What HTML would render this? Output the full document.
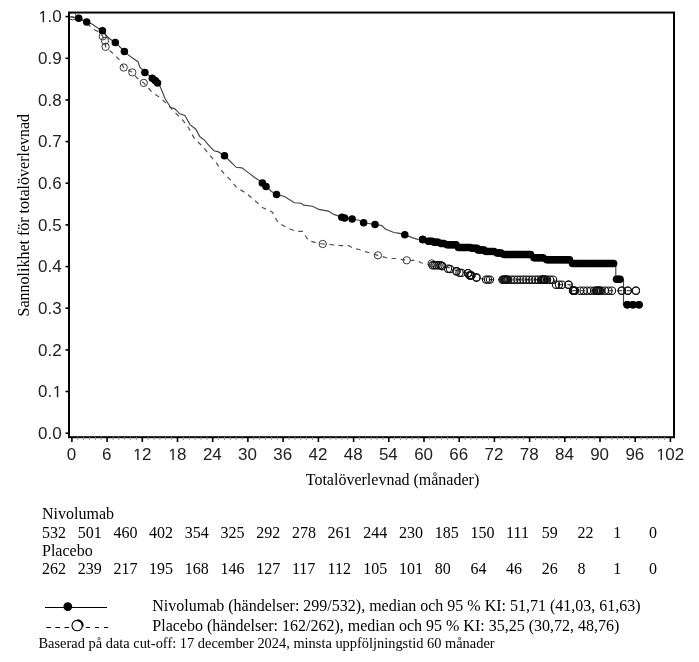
<!DOCTYPE html><html><head><meta charset="utf-8"><style>html,body{margin:0;padding:0;background:#fff;width:699px;height:662px;overflow:hidden}svg{display:block;will-change:transform}</style></head><body>
<svg width="699" height="662" viewBox="0 0 699 662">
<rect width="699" height="662" fill="#fff"/>
<rect x="69" y="12.55" width="605" height="424.65" fill="none" stroke="#000" stroke-width="2"/>
<line x1="65.5" y1="433.2" x2="69" y2="433.2" stroke="#000" stroke-width="1.6"/>
<g transform="translate(61.60,438.90) scale(1.03,1)" fill="#222"><text text-anchor="end" font-family='"Liberation Sans", sans-serif' font-size="16.5">0.0</text></g>
<line x1="65.5" y1="391.5" x2="69" y2="391.5" stroke="#000" stroke-width="1.6"/>
<g transform="translate(61.60,397.24) scale(1.03,1)" fill="#222"><text text-anchor="end" font-family='"Liberation Sans", sans-serif' font-size="16.5">0. </text><path transform="translate(-9.177,0) scale(0.008057,-0.008057)" d="M565,0 L735,0 L735,1409 L590,1409 L280,1180 L280,1000 L565,1200 Z"/></g>
<line x1="65.5" y1="349.9" x2="69" y2="349.9" stroke="#000" stroke-width="1.6"/>
<g transform="translate(61.60,355.58) scale(1.03,1)" fill="#222"><text text-anchor="end" font-family='"Liberation Sans", sans-serif' font-size="16.5">0.2</text></g>
<line x1="65.5" y1="308.2" x2="69" y2="308.2" stroke="#000" stroke-width="1.6"/>
<g transform="translate(61.60,313.92) scale(1.03,1)" fill="#222"><text text-anchor="end" font-family='"Liberation Sans", sans-serif' font-size="16.5">0.3</text></g>
<line x1="65.5" y1="266.6" x2="69" y2="266.6" stroke="#000" stroke-width="1.6"/>
<g transform="translate(61.60,272.26) scale(1.03,1)" fill="#222"><text text-anchor="end" font-family='"Liberation Sans", sans-serif' font-size="16.5">0.4</text></g>
<line x1="65.5" y1="224.9" x2="69" y2="224.9" stroke="#000" stroke-width="1.6"/>
<g transform="translate(61.60,230.60) scale(1.03,1)" fill="#222"><text text-anchor="end" font-family='"Liberation Sans", sans-serif' font-size="16.5">0.5</text></g>
<line x1="65.5" y1="183.2" x2="69" y2="183.2" stroke="#000" stroke-width="1.6"/>
<g transform="translate(61.60,188.94) scale(1.03,1)" fill="#222"><text text-anchor="end" font-family='"Liberation Sans", sans-serif' font-size="16.5">0.6</text></g>
<line x1="65.5" y1="141.6" x2="69" y2="141.6" stroke="#000" stroke-width="1.6"/>
<g transform="translate(61.60,147.28) scale(1.03,1)" fill="#222"><text text-anchor="end" font-family='"Liberation Sans", sans-serif' font-size="16.5">0.7</text></g>
<line x1="65.5" y1="99.9" x2="69" y2="99.9" stroke="#000" stroke-width="1.6"/>
<g transform="translate(61.60,105.62) scale(1.03,1)" fill="#222"><text text-anchor="end" font-family='"Liberation Sans", sans-serif' font-size="16.5">0.8</text></g>
<line x1="65.5" y1="58.3" x2="69" y2="58.3" stroke="#000" stroke-width="1.6"/>
<g transform="translate(61.60,63.96) scale(1.03,1)" fill="#222"><text text-anchor="end" font-family='"Liberation Sans", sans-serif' font-size="16.5">0.9</text></g>
<line x1="65.5" y1="16.6" x2="69" y2="16.6" stroke="#000" stroke-width="1.6"/>
<g transform="translate(61.60,22.30) scale(1.03,1)" fill="#222"><text text-anchor="end" font-family='"Liberation Sans", sans-serif' font-size="16.5"> .0</text><path transform="translate(-22.937,0) scale(0.008057,-0.008057)" d="M565,0 L735,0 L735,1409 L590,1409 L280,1180 L280,1000 L565,1200 Z"/></g>
<line x1="71.9" y1="437" x2="71.9" y2="442" stroke="#000" stroke-width="1.6"/>
<g transform="translate(71.50,460.00) scale(1.03,1)" fill="#222"><text text-anchor="middle" font-family='"Liberation Sans", sans-serif' font-size="16.5">0</text></g>
<line x1="77.8" y1="437" x2="77.8" y2="439.8" stroke="#888" stroke-width="1"/>
<line x1="83.6" y1="437" x2="83.6" y2="439.8" stroke="#888" stroke-width="1"/>
<line x1="89.5" y1="437" x2="89.5" y2="439.8" stroke="#888" stroke-width="1"/>
<line x1="95.4" y1="437" x2="95.4" y2="439.8" stroke="#888" stroke-width="1"/>
<line x1="101.2" y1="437" x2="101.2" y2="439.8" stroke="#888" stroke-width="1"/>
<line x1="107.1" y1="437" x2="107.1" y2="442" stroke="#000" stroke-width="1.6"/>
<g transform="translate(106.71,460.00) scale(1.03,1)" fill="#222"><text text-anchor="middle" font-family='"Liberation Sans", sans-serif' font-size="16.5">6</text></g>
<line x1="113.0" y1="437" x2="113.0" y2="439.8" stroke="#888" stroke-width="1"/>
<line x1="118.8" y1="437" x2="118.8" y2="439.8" stroke="#888" stroke-width="1"/>
<line x1="124.7" y1="437" x2="124.7" y2="439.8" stroke="#888" stroke-width="1"/>
<line x1="130.6" y1="437" x2="130.6" y2="439.8" stroke="#888" stroke-width="1"/>
<line x1="136.4" y1="437" x2="136.4" y2="439.8" stroke="#888" stroke-width="1"/>
<line x1="142.3" y1="437" x2="142.3" y2="442" stroke="#000" stroke-width="1.6"/>
<g transform="translate(141.92,460.00) scale(1.03,1)" fill="#222"><text text-anchor="middle" font-family='"Liberation Sans", sans-serif' font-size="16.5"> 2</text><path transform="translate(-9.177,0) scale(0.008057,-0.008057)" d="M565,0 L735,0 L735,1409 L590,1409 L280,1180 L280,1000 L565,1200 Z"/></g>
<line x1="148.2" y1="437" x2="148.2" y2="439.8" stroke="#888" stroke-width="1"/>
<line x1="154.1" y1="437" x2="154.1" y2="439.8" stroke="#888" stroke-width="1"/>
<line x1="159.9" y1="437" x2="159.9" y2="439.8" stroke="#888" stroke-width="1"/>
<line x1="165.8" y1="437" x2="165.8" y2="439.8" stroke="#888" stroke-width="1"/>
<line x1="171.7" y1="437" x2="171.7" y2="439.8" stroke="#888" stroke-width="1"/>
<line x1="177.5" y1="437" x2="177.5" y2="442" stroke="#000" stroke-width="1.6"/>
<g transform="translate(177.12,460.00) scale(1.03,1)" fill="#222"><text text-anchor="middle" font-family='"Liberation Sans", sans-serif' font-size="16.5"> 8</text><path transform="translate(-9.177,0) scale(0.008057,-0.008057)" d="M565,0 L735,0 L735,1409 L590,1409 L280,1180 L280,1000 L565,1200 Z"/></g>
<line x1="183.4" y1="437" x2="183.4" y2="439.8" stroke="#888" stroke-width="1"/>
<line x1="189.3" y1="437" x2="189.3" y2="439.8" stroke="#888" stroke-width="1"/>
<line x1="195.1" y1="437" x2="195.1" y2="439.8" stroke="#888" stroke-width="1"/>
<line x1="201.0" y1="437" x2="201.0" y2="439.8" stroke="#888" stroke-width="1"/>
<line x1="206.9" y1="437" x2="206.9" y2="439.8" stroke="#888" stroke-width="1"/>
<line x1="212.7" y1="437" x2="212.7" y2="442" stroke="#000" stroke-width="1.6"/>
<g transform="translate(212.33,460.00) scale(1.03,1)" fill="#222"><text text-anchor="middle" font-family='"Liberation Sans", sans-serif' font-size="16.5">24</text></g>
<line x1="218.6" y1="437" x2="218.6" y2="439.8" stroke="#888" stroke-width="1"/>
<line x1="224.5" y1="437" x2="224.5" y2="439.8" stroke="#888" stroke-width="1"/>
<line x1="230.3" y1="437" x2="230.3" y2="439.8" stroke="#888" stroke-width="1"/>
<line x1="236.2" y1="437" x2="236.2" y2="439.8" stroke="#888" stroke-width="1"/>
<line x1="242.1" y1="437" x2="242.1" y2="439.8" stroke="#888" stroke-width="1"/>
<line x1="247.9" y1="437" x2="247.9" y2="442" stroke="#000" stroke-width="1.6"/>
<g transform="translate(247.54,460.00) scale(1.03,1)" fill="#222"><text text-anchor="middle" font-family='"Liberation Sans", sans-serif' font-size="16.5">30</text></g>
<line x1="253.8" y1="437" x2="253.8" y2="439.8" stroke="#888" stroke-width="1"/>
<line x1="259.7" y1="437" x2="259.7" y2="439.8" stroke="#888" stroke-width="1"/>
<line x1="265.5" y1="437" x2="265.5" y2="439.8" stroke="#888" stroke-width="1"/>
<line x1="271.4" y1="437" x2="271.4" y2="439.8" stroke="#888" stroke-width="1"/>
<line x1="277.3" y1="437" x2="277.3" y2="439.8" stroke="#888" stroke-width="1"/>
<line x1="283.1" y1="437" x2="283.1" y2="442" stroke="#000" stroke-width="1.6"/>
<g transform="translate(282.75,460.00) scale(1.03,1)" fill="#222"><text text-anchor="middle" font-family='"Liberation Sans", sans-serif' font-size="16.5">36</text></g>
<line x1="289.0" y1="437" x2="289.0" y2="439.8" stroke="#888" stroke-width="1"/>
<line x1="294.9" y1="437" x2="294.9" y2="439.8" stroke="#888" stroke-width="1"/>
<line x1="300.8" y1="437" x2="300.8" y2="439.8" stroke="#888" stroke-width="1"/>
<line x1="306.6" y1="437" x2="306.6" y2="439.8" stroke="#888" stroke-width="1"/>
<line x1="312.5" y1="437" x2="312.5" y2="439.8" stroke="#888" stroke-width="1"/>
<line x1="318.4" y1="437" x2="318.4" y2="442" stroke="#000" stroke-width="1.6"/>
<g transform="translate(317.96,460.00) scale(1.03,1)" fill="#222"><text text-anchor="middle" font-family='"Liberation Sans", sans-serif' font-size="16.5">42</text></g>
<line x1="324.2" y1="437" x2="324.2" y2="439.8" stroke="#888" stroke-width="1"/>
<line x1="330.1" y1="437" x2="330.1" y2="439.8" stroke="#888" stroke-width="1"/>
<line x1="336.0" y1="437" x2="336.0" y2="439.8" stroke="#888" stroke-width="1"/>
<line x1="341.8" y1="437" x2="341.8" y2="439.8" stroke="#888" stroke-width="1"/>
<line x1="347.7" y1="437" x2="347.7" y2="439.8" stroke="#888" stroke-width="1"/>
<line x1="353.6" y1="437" x2="353.6" y2="442" stroke="#000" stroke-width="1.6"/>
<g transform="translate(353.16,460.00) scale(1.03,1)" fill="#222"><text text-anchor="middle" font-family='"Liberation Sans", sans-serif' font-size="16.5">48</text></g>
<line x1="359.4" y1="437" x2="359.4" y2="439.8" stroke="#888" stroke-width="1"/>
<line x1="365.3" y1="437" x2="365.3" y2="439.8" stroke="#888" stroke-width="1"/>
<line x1="371.2" y1="437" x2="371.2" y2="439.8" stroke="#888" stroke-width="1"/>
<line x1="377.0" y1="437" x2="377.0" y2="439.8" stroke="#888" stroke-width="1"/>
<line x1="382.9" y1="437" x2="382.9" y2="439.8" stroke="#888" stroke-width="1"/>
<line x1="388.8" y1="437" x2="388.8" y2="442" stroke="#000" stroke-width="1.6"/>
<g transform="translate(388.37,460.00) scale(1.03,1)" fill="#222"><text text-anchor="middle" font-family='"Liberation Sans", sans-serif' font-size="16.5">54</text></g>
<line x1="394.6" y1="437" x2="394.6" y2="439.8" stroke="#888" stroke-width="1"/>
<line x1="400.5" y1="437" x2="400.5" y2="439.8" stroke="#888" stroke-width="1"/>
<line x1="406.4" y1="437" x2="406.4" y2="439.8" stroke="#888" stroke-width="1"/>
<line x1="412.2" y1="437" x2="412.2" y2="439.8" stroke="#888" stroke-width="1"/>
<line x1="418.1" y1="437" x2="418.1" y2="439.8" stroke="#888" stroke-width="1"/>
<line x1="424.0" y1="437" x2="424.0" y2="442" stroke="#000" stroke-width="1.6"/>
<g transform="translate(423.58,460.00) scale(1.03,1)" fill="#222"><text text-anchor="middle" font-family='"Liberation Sans", sans-serif' font-size="16.5">60</text></g>
<line x1="429.8" y1="437" x2="429.8" y2="439.8" stroke="#888" stroke-width="1"/>
<line x1="435.7" y1="437" x2="435.7" y2="439.8" stroke="#888" stroke-width="1"/>
<line x1="441.6" y1="437" x2="441.6" y2="439.8" stroke="#888" stroke-width="1"/>
<line x1="447.5" y1="437" x2="447.5" y2="439.8" stroke="#888" stroke-width="1"/>
<line x1="453.3" y1="437" x2="453.3" y2="439.8" stroke="#888" stroke-width="1"/>
<line x1="459.2" y1="437" x2="459.2" y2="442" stroke="#000" stroke-width="1.6"/>
<g transform="translate(458.79,460.00) scale(1.03,1)" fill="#222"><text text-anchor="middle" font-family='"Liberation Sans", sans-serif' font-size="16.5">66</text></g>
<line x1="465.1" y1="437" x2="465.1" y2="439.8" stroke="#888" stroke-width="1"/>
<line x1="470.9" y1="437" x2="470.9" y2="439.8" stroke="#888" stroke-width="1"/>
<line x1="476.8" y1="437" x2="476.8" y2="439.8" stroke="#888" stroke-width="1"/>
<line x1="482.7" y1="437" x2="482.7" y2="439.8" stroke="#888" stroke-width="1"/>
<line x1="488.5" y1="437" x2="488.5" y2="439.8" stroke="#888" stroke-width="1"/>
<line x1="494.4" y1="437" x2="494.4" y2="442" stroke="#000" stroke-width="1.6"/>
<g transform="translate(494.00,460.00) scale(1.03,1)" fill="#222"><text text-anchor="middle" font-family='"Liberation Sans", sans-serif' font-size="16.5">72</text></g>
<line x1="500.3" y1="437" x2="500.3" y2="439.8" stroke="#888" stroke-width="1"/>
<line x1="506.1" y1="437" x2="506.1" y2="439.8" stroke="#888" stroke-width="1"/>
<line x1="512.0" y1="437" x2="512.0" y2="439.8" stroke="#888" stroke-width="1"/>
<line x1="517.9" y1="437" x2="517.9" y2="439.8" stroke="#888" stroke-width="1"/>
<line x1="523.7" y1="437" x2="523.7" y2="439.8" stroke="#888" stroke-width="1"/>
<line x1="529.6" y1="437" x2="529.6" y2="442" stroke="#000" stroke-width="1.6"/>
<g transform="translate(529.20,460.00) scale(1.03,1)" fill="#222"><text text-anchor="middle" font-family='"Liberation Sans", sans-serif' font-size="16.5">78</text></g>
<line x1="535.5" y1="437" x2="535.5" y2="439.8" stroke="#888" stroke-width="1"/>
<line x1="541.3" y1="437" x2="541.3" y2="439.8" stroke="#888" stroke-width="1"/>
<line x1="547.2" y1="437" x2="547.2" y2="439.8" stroke="#888" stroke-width="1"/>
<line x1="553.1" y1="437" x2="553.1" y2="439.8" stroke="#888" stroke-width="1"/>
<line x1="558.9" y1="437" x2="558.9" y2="439.8" stroke="#888" stroke-width="1"/>
<line x1="564.8" y1="437" x2="564.8" y2="442" stroke="#000" stroke-width="1.6"/>
<g transform="translate(564.41,460.00) scale(1.03,1)" fill="#222"><text text-anchor="middle" font-family='"Liberation Sans", sans-serif' font-size="16.5">84</text></g>
<line x1="570.7" y1="437" x2="570.7" y2="439.8" stroke="#888" stroke-width="1"/>
<line x1="576.5" y1="437" x2="576.5" y2="439.8" stroke="#888" stroke-width="1"/>
<line x1="582.4" y1="437" x2="582.4" y2="439.8" stroke="#888" stroke-width="1"/>
<line x1="588.3" y1="437" x2="588.3" y2="439.8" stroke="#888" stroke-width="1"/>
<line x1="594.2" y1="437" x2="594.2" y2="439.8" stroke="#888" stroke-width="1"/>
<line x1="600.0" y1="437" x2="600.0" y2="442" stroke="#000" stroke-width="1.6"/>
<g transform="translate(599.62,460.00) scale(1.03,1)" fill="#222"><text text-anchor="middle" font-family='"Liberation Sans", sans-serif' font-size="16.5">90</text></g>
<line x1="605.9" y1="437" x2="605.9" y2="439.8" stroke="#888" stroke-width="1"/>
<line x1="611.8" y1="437" x2="611.8" y2="439.8" stroke="#888" stroke-width="1"/>
<line x1="617.6" y1="437" x2="617.6" y2="439.8" stroke="#888" stroke-width="1"/>
<line x1="623.5" y1="437" x2="623.5" y2="439.8" stroke="#888" stroke-width="1"/>
<line x1="629.4" y1="437" x2="629.4" y2="439.8" stroke="#888" stroke-width="1"/>
<line x1="635.2" y1="437" x2="635.2" y2="442" stroke="#000" stroke-width="1.6"/>
<g transform="translate(634.83,460.00) scale(1.03,1)" fill="#222"><text text-anchor="middle" font-family='"Liberation Sans", sans-serif' font-size="16.5">96</text></g>
<line x1="641.1" y1="437" x2="641.1" y2="439.8" stroke="#888" stroke-width="1"/>
<line x1="647.0" y1="437" x2="647.0" y2="439.8" stroke="#888" stroke-width="1"/>
<line x1="652.8" y1="437" x2="652.8" y2="439.8" stroke="#888" stroke-width="1"/>
<line x1="658.7" y1="437" x2="658.7" y2="439.8" stroke="#888" stroke-width="1"/>
<line x1="664.6" y1="437" x2="664.6" y2="439.8" stroke="#888" stroke-width="1"/>
<line x1="670.4" y1="437" x2="670.4" y2="442" stroke="#000" stroke-width="1.6"/>
<g transform="translate(670.04,460.00) scale(1.03,1)" fill="#222"><text text-anchor="middle" font-family='"Liberation Sans", sans-serif' font-size="16.5"> 02</text><path transform="translate(-13.765,0) scale(0.008057,-0.008057)" d="M565,0 L735,0 L735,1409 L590,1409 L280,1180 L280,1000 L565,1200 Z"/></g>
<text x="392.5" y="485" text-anchor="middle" font-family='"Liberation Serif", serif' font-size="16" fill="#000">Totalöverlevnad (månader)</text>
<text transform="translate(28.6,215.2) rotate(-90)" text-anchor="middle" font-family='"Liberation Serif", serif' font-size="16" fill="#000">Sannolikhet för totalöverlevnad</text>
<g clip-path="url(#clip)">
<defs><clipPath id="clip"><rect x="70" y="13.3" width="603" height="422.7"/></clipPath></defs>
<polyline points="70.5,16.6 79.0,18.5 86.0,22.0 92.5,28.9 97.0,31.0 102.8,36.3 105.0,40.7 105.6,46.8 113.6,54.0 119.5,60.0 123.7,67.5 132.3,72.4 137.0,78.0 143.8,82.9 151.8,92.0 160.3,97.8 168.3,105.2 175.7,113.2 183.2,120.6 189.5,129.2 194.0,137.8 196.1,140.4 203.0,146.7 209.3,154.7 216.7,163.3 222.6,172.0 230.3,179.9 237.2,188.0 246.2,193.2 254.8,200.5 262.9,207.8 272.4,212.1 278.0,222.6 287.2,227.8 296.0,231.4 302.9,231.4 305.7,236.2 308.6,240.8 314.9,242.3 322.7,244.0 333.8,244.8 341.2,245.6 348.6,245.6 353.2,248.2 359.0,249.5 366.4,251.9 377.9,255.3 388.8,258.5 395.6,258.5 406.7,260.3 417.4,260.5 420.8,262.8 431.0,265.0 442.0,265.0 446.0,266.5 449.3,267.9 453.0,269.5 457.3,270.8 460.8,271.9 467.6,272.5 471.0,275.3 476.8,277.1 480.0,278.5 488.2,279.6 554.0,279.6 555.0,284.7 570.0,284.7 571.0,290.7 635.9,290.7" fill="none" stroke="#505050" stroke-width="1.2" stroke-dasharray="4.6 4.6"/>
<polyline points="70.5,16.6 79.0,18.2 87.0,22.0 92.0,24.0 97.0,27.5 102.4,30.8 106.0,35.5 110.0,39.0 115.2,42.4 120.0,47.0 124.4,51.4 128.3,54.9 132.9,58.3 138.0,61.7 139.7,66.9 144.9,72.4 152.3,78.3 155.2,80.6 157.5,82.9 160.3,86.9 164.9,98.3 170.6,107.5 174.6,108.6 179.7,113.8 184.9,115.5 190.0,124.6 195.8,129.2 200.1,137.0 204.2,139.9 209.9,146.7 213.9,150.7 218.5,151.9 224.5,155.7 229.3,160.5 236.2,167.3 241.9,167.9 248.3,172.6 254.3,177.3 258.6,179.9 262.3,183.0 266.0,186.5 271.5,191.5 276.5,194.4 284.5,196.5 294.4,202.8 301.3,203.2 303.6,205.1 312.5,206.2 318.8,209.4 328.5,211.1 333.8,214.4 341.8,217.3 344.6,217.9 352.1,219.0 359.0,220.2 363.6,222.7 375.0,224.5 381.9,225.6 385.3,229.0 393.9,232.5 399.6,233.4 404.8,234.7 412.2,237.6 416.8,239.1 422.7,239.4" fill="none" stroke="#444" stroke-width="1.15"/>
<path d="M422.7,239.4 L425.5,239.4 L425.5,241.3 L432.0,241.3 L433.0,241.3 L433.0,242.2 L438.0,242.2 L439.5,242.2 L439.5,243.5 L444.0,243.5 L445.5,243.5 L445.5,244.8 L456.0,244.8 L457.2,244.8 L457.2,247.5 L470.0,247.5 L471.0,247.5 L471.0,248.3 L477.0,248.3 L477.5,248.3 L477.5,250.0 L484.0,250.0 L485.0,250.0 L485.0,251.4 L494.0,251.4 L495.5,251.4 L495.5,252.9 L501.0,252.9 L502.5,252.9 L502.5,254.6 L530.5,254.6 L532.2,254.6 L532.2,257.8 L543.0,257.8 L544.9,257.8 L544.9,259.8 L569.5,259.8 L571.0,259.8 L571.0,263.5 L613.6,263.5 L615.8,263.5 L615.8,279.2 L620.0,279.2 L623.5,279.2 L623.5,304.8 L627.2,304.8 L630.0,304.8 L630.0,304.8 L632.9,304.8 L636.0,304.8 L636.0,304.8 L639.0,304.8" fill="none" stroke="#444" stroke-width="1.15"/>
<circle cx="72.6" cy="16.3" r="3.65" fill="none" stroke="#3a3a3a" stroke-width="1"/>
<circle cx="102.8" cy="36.3" r="3.65" fill="none" stroke="#3a3a3a" stroke-width="1"/>
<circle cx="105.0" cy="40.7" r="3.65" fill="none" stroke="#3a3a3a" stroke-width="1"/>
<circle cx="105.6" cy="46.8" r="3.65" fill="none" stroke="#3a3a3a" stroke-width="1"/>
<circle cx="123.7" cy="67.5" r="3.65" fill="none" stroke="#3a3a3a" stroke-width="1"/>
<circle cx="132.3" cy="72.4" r="3.65" fill="none" stroke="#3a3a3a" stroke-width="1"/>
<circle cx="143.8" cy="82.9" r="3.65" fill="none" stroke="#3a3a3a" stroke-width="1"/>
<circle cx="322.7" cy="244.0" r="3.65" fill="none" stroke="#3a3a3a" stroke-width="1"/>
<circle cx="377.9" cy="255.3" r="3.65" fill="none" stroke="#3a3a3a" stroke-width="1"/>
<circle cx="406.7" cy="260.3" r="3.65" fill="none" stroke="#3a3a3a" stroke-width="1"/>
<circle cx="431.7" cy="263.4" r="3.65" fill="none" stroke="#3a3a3a" stroke-width="1"/>
<circle cx="432.5" cy="265.3" r="3.65" fill="none" stroke="#111" stroke-width="1.1"/>
<circle cx="434.5" cy="265.3" r="3.65" fill="none" stroke="#111" stroke-width="1.1"/>
<circle cx="436.5" cy="265.3" r="3.65" fill="none" stroke="#111" stroke-width="1.1"/>
<circle cx="438.5" cy="265.3" r="3.65" fill="none" stroke="#111" stroke-width="1.1"/>
<circle cx="440.5" cy="265.3" r="3.65" fill="none" stroke="#111" stroke-width="1.1"/>
<circle cx="442.0" cy="266.0" r="3.65" fill="none" stroke="#111" stroke-width="1.1"/>
<circle cx="442.0" cy="266.0" r="3.65" fill="none" stroke="#111" stroke-width="1.1"/>
<circle cx="448.0" cy="268.7" r="3.65" fill="none" stroke="#111" stroke-width="1.1"/>
<circle cx="450.0" cy="269.0" r="3.65" fill="none" stroke="#111" stroke-width="1.1"/>
<circle cx="456.5" cy="271.3" r="3.65" fill="none" stroke="#111" stroke-width="1.1"/>
<circle cx="456.5" cy="271.3" r="3.65" fill="none" stroke="#111" stroke-width="1.1"/>
<circle cx="459.5" cy="272.7" r="3.65" fill="none" stroke="#111" stroke-width="1.1"/>
<circle cx="461.5" cy="272.9" r="3.65" fill="none" stroke="#111" stroke-width="1.1"/>
<circle cx="468.0" cy="273.2" r="3.65" fill="none" stroke="#111" stroke-width="1.1"/>
<circle cx="468.0" cy="273.2" r="3.65" fill="none" stroke="#111" stroke-width="1.1"/>
<circle cx="470.5" cy="275.5" r="3.65" fill="none" stroke="#111" stroke-width="1.1"/>
<circle cx="470.5" cy="275.5" r="3.65" fill="none" stroke="#111" stroke-width="1.1"/>
<circle cx="476.5" cy="277.5" r="3.65" fill="none" stroke="#111" stroke-width="1.1"/>
<circle cx="476.5" cy="277.5" r="3.65" fill="none" stroke="#111" stroke-width="1.1"/>
<circle cx="486.0" cy="279.6" r="3.65" fill="none" stroke="#111" stroke-width="1.1"/>
<circle cx="488.0" cy="279.6" r="3.65" fill="none" stroke="#111" stroke-width="1.1"/>
<circle cx="490.0" cy="279.6" r="3.65" fill="none" stroke="#111" stroke-width="1.1"/>
<circle cx="502.5" cy="279.7" r="3.65" fill="none" stroke="#111" stroke-width="1.1"/>
<circle cx="505.5" cy="279.7" r="3.65" fill="none" stroke="#111" stroke-width="1.1"/>
<circle cx="508.4" cy="279.7" r="3.65" fill="none" stroke="#111" stroke-width="1.1"/>
<circle cx="511.4" cy="279.7" r="3.65" fill="none" stroke="#111" stroke-width="1.1"/>
<circle cx="514.4" cy="279.7" r="3.65" fill="none" stroke="#111" stroke-width="1.1"/>
<circle cx="517.4" cy="279.7" r="3.65" fill="none" stroke="#111" stroke-width="1.1"/>
<circle cx="520.3" cy="279.7" r="3.65" fill="none" stroke="#111" stroke-width="1.1"/>
<circle cx="523.3" cy="279.7" r="3.65" fill="none" stroke="#111" stroke-width="1.1"/>
<circle cx="526.3" cy="279.7" r="3.65" fill="none" stroke="#111" stroke-width="1.1"/>
<circle cx="529.2" cy="279.7" r="3.65" fill="none" stroke="#111" stroke-width="1.1"/>
<circle cx="532.2" cy="279.7" r="3.65" fill="none" stroke="#111" stroke-width="1.1"/>
<circle cx="535.2" cy="279.7" r="3.65" fill="none" stroke="#111" stroke-width="1.1"/>
<circle cx="538.1" cy="279.7" r="3.65" fill="none" stroke="#111" stroke-width="1.1"/>
<circle cx="541.1" cy="279.7" r="3.65" fill="none" stroke="#111" stroke-width="1.1"/>
<circle cx="544.1" cy="279.7" r="3.65" fill="none" stroke="#111" stroke-width="1.1"/>
<circle cx="547.1" cy="279.7" r="3.65" fill="none" stroke="#111" stroke-width="1.1"/>
<circle cx="550.0" cy="279.7" r="3.65" fill="none" stroke="#111" stroke-width="1.1"/>
<circle cx="553.0" cy="279.7" r="3.65" fill="none" stroke="#111" stroke-width="1.1"/>
<circle cx="556.0" cy="284.7" r="3.65" fill="none" stroke="#111" stroke-width="1.1"/>
<circle cx="559.0" cy="284.7" r="3.65" fill="none" stroke="#111" stroke-width="1.1"/>
<circle cx="562.0" cy="284.7" r="3.65" fill="none" stroke="#111" stroke-width="1.1"/>
<circle cx="568.5" cy="284.7" r="3.65" fill="none" stroke="#111" stroke-width="1.1"/>
<circle cx="568.5" cy="284.7" r="3.65" fill="none" stroke="#111" stroke-width="1.1"/>
<circle cx="573.5" cy="290.7" r="3.65" fill="none" stroke="#111" stroke-width="1.1"/>
<circle cx="573.5" cy="290.7" r="3.65" fill="none" stroke="#111" stroke-width="1.1"/>
<circle cx="580.0" cy="290.7" r="3.65" fill="none" stroke="#111" stroke-width="1.1"/>
<circle cx="583.6" cy="290.7" r="3.65" fill="none" stroke="#111" stroke-width="1.1"/>
<circle cx="587.1" cy="290.7" r="3.65" fill="none" stroke="#111" stroke-width="1.1"/>
<circle cx="590.7" cy="290.7" r="3.65" fill="none" stroke="#111" stroke-width="1.1"/>
<circle cx="594.2" cy="290.7" r="3.65" fill="none" stroke="#111" stroke-width="1.1"/>
<circle cx="597.8" cy="290.7" r="3.65" fill="none" stroke="#111" stroke-width="1.1"/>
<circle cx="601.3" cy="290.7" r="3.65" fill="none" stroke="#111" stroke-width="1.1"/>
<circle cx="604.9" cy="290.7" r="3.65" fill="none" stroke="#111" stroke-width="1.1"/>
<circle cx="608.4" cy="290.7" r="3.65" fill="none" stroke="#111" stroke-width="1.1"/>
<circle cx="612.0" cy="290.7" r="3.65" fill="none" stroke="#111" stroke-width="1.1"/>
<circle cx="621.8" cy="290.7" r="3.65" fill="none" stroke="#111" stroke-width="1.1"/>
<circle cx="621.8" cy="290.7" r="3.65" fill="none" stroke="#111" stroke-width="1.1"/>
<circle cx="627.8" cy="290.7" r="3.65" fill="none" stroke="#111" stroke-width="1.1"/>
<circle cx="627.8" cy="290.7" r="3.65" fill="none" stroke="#111" stroke-width="1.1"/>
<circle cx="635.9" cy="290.7" r="3.65" fill="none" stroke="#111" stroke-width="1.1"/>
<circle cx="635.9" cy="290.7" r="3.65" fill="none" stroke="#111" stroke-width="1.1"/>
<circle cx="541.5" cy="279.7" r="3.65" fill="none" stroke="#111" stroke-width="1.1"/>
<circle cx="542.3" cy="279.7" r="3.65" fill="none" stroke="#111" stroke-width="1.1"/>
<circle cx="543.1" cy="279.7" r="3.65" fill="none" stroke="#111" stroke-width="1.1"/>
<circle cx="543.9" cy="279.7" r="3.65" fill="none" stroke="#111" stroke-width="1.1"/>
<circle cx="544.7" cy="279.7" r="3.65" fill="none" stroke="#111" stroke-width="1.1"/>
<circle cx="545.5" cy="279.7" r="3.65" fill="none" stroke="#111" stroke-width="1.1"/>
<circle cx="503.5" cy="279.7" r="3.65" fill="none" stroke="#111" stroke-width="1.1"/>
<circle cx="504.3" cy="279.7" r="3.65" fill="none" stroke="#111" stroke-width="1.1"/>
<circle cx="505.1" cy="279.7" r="3.65" fill="none" stroke="#111" stroke-width="1.1"/>
<circle cx="505.9" cy="279.7" r="3.65" fill="none" stroke="#111" stroke-width="1.1"/>
<circle cx="506.7" cy="279.7" r="3.65" fill="none" stroke="#111" stroke-width="1.1"/>
<circle cx="507.5" cy="279.7" r="3.65" fill="none" stroke="#111" stroke-width="1.1"/>
<circle cx="573.0" cy="290.7" r="3.65" fill="none" stroke="#111" stroke-width="1.1"/>
<circle cx="573.7" cy="290.7" r="3.65" fill="none" stroke="#111" stroke-width="1.1"/>
<circle cx="574.3" cy="290.7" r="3.65" fill="none" stroke="#111" stroke-width="1.1"/>
<circle cx="575.0" cy="290.7" r="3.65" fill="none" stroke="#111" stroke-width="1.1"/>
<circle cx="596.0" cy="290.7" r="3.65" fill="none" stroke="#111" stroke-width="1.1"/>
<circle cx="596.8" cy="290.7" r="3.65" fill="none" stroke="#111" stroke-width="1.1"/>
<circle cx="597.6" cy="290.7" r="3.65" fill="none" stroke="#111" stroke-width="1.1"/>
<circle cx="598.4" cy="290.7" r="3.65" fill="none" stroke="#111" stroke-width="1.1"/>
<circle cx="599.2" cy="290.7" r="3.65" fill="none" stroke="#111" stroke-width="1.1"/>
<circle cx="600.0" cy="290.7" r="3.65" fill="none" stroke="#111" stroke-width="1.1"/>
<circle cx="469.5" cy="275.4" r="3.65" fill="none" stroke="#111" stroke-width="1.1"/>
<circle cx="470.2" cy="275.4" r="3.65" fill="none" stroke="#111" stroke-width="1.1"/>
<circle cx="470.8" cy="275.4" r="3.65" fill="none" stroke="#111" stroke-width="1.1"/>
<circle cx="471.5" cy="275.4" r="3.65" fill="none" stroke="#111" stroke-width="1.1"/>
<circle cx="78.7" cy="18.2" r="3.75" fill="#000"/>
<circle cx="86.7" cy="22.0" r="3.75" fill="#000"/>
<circle cx="102.4" cy="30.8" r="3.75" fill="#000"/>
<circle cx="115.3" cy="42.4" r="3.75" fill="#000"/>
<circle cx="124.4" cy="51.4" r="3.75" fill="#000"/>
<circle cx="144.9" cy="72.4" r="3.75" fill="#000"/>
<circle cx="152.3" cy="78.3" r="3.75" fill="#000"/>
<circle cx="155.2" cy="80.6" r="3.75" fill="#000"/>
<circle cx="157.5" cy="82.9" r="3.75" fill="#000"/>
<circle cx="224.5" cy="155.7" r="3.75" fill="#000"/>
<circle cx="262.3" cy="183.0" r="3.75" fill="#000"/>
<circle cx="266.0" cy="186.5" r="3.75" fill="#000"/>
<circle cx="276.5" cy="194.4" r="3.75" fill="#000"/>
<circle cx="341.8" cy="217.3" r="3.75" fill="#000"/>
<circle cx="344.6" cy="217.9" r="3.75" fill="#000"/>
<circle cx="352.1" cy="219.0" r="3.75" fill="#000"/>
<circle cx="363.6" cy="222.7" r="3.75" fill="#000"/>
<circle cx="375.0" cy="224.5" r="3.75" fill="#000"/>
<circle cx="404.8" cy="234.7" r="3.75" fill="#000"/>
<circle cx="422.7" cy="239.4" r="3.75" fill="#000"/>
<circle cx="422.7" cy="239.4" r="3.75" fill="#000"/>
<circle cx="422.7" cy="239.4" r="3.75" fill="#000"/>
<circle cx="428.3" cy="241.3" r="3.75" fill="#000"/>
<circle cx="430.1" cy="241.3" r="3.75" fill="#000"/>
<circle cx="432.0" cy="241.3" r="3.75" fill="#000"/>
<circle cx="434.0" cy="242.2" r="3.75" fill="#000"/>
<circle cx="435.3" cy="242.2" r="3.75" fill="#000"/>
<circle cx="436.7" cy="242.2" r="3.75" fill="#000"/>
<circle cx="438.0" cy="242.2" r="3.75" fill="#000"/>
<circle cx="441.0" cy="243.5" r="3.75" fill="#000"/>
<circle cx="442.5" cy="243.5" r="3.75" fill="#000"/>
<circle cx="444.0" cy="243.5" r="3.75" fill="#000"/>
<circle cx="447.0" cy="244.8" r="3.75" fill="#000"/>
<circle cx="448.5" cy="244.8" r="3.75" fill="#000"/>
<circle cx="450.0" cy="244.8" r="3.75" fill="#000"/>
<circle cx="451.5" cy="244.8" r="3.75" fill="#000"/>
<circle cx="453.0" cy="244.8" r="3.75" fill="#000"/>
<circle cx="454.5" cy="244.8" r="3.75" fill="#000"/>
<circle cx="456.0" cy="244.8" r="3.75" fill="#000"/>
<circle cx="458.5" cy="247.5" r="3.75" fill="#000"/>
<circle cx="459.9" cy="247.5" r="3.75" fill="#000"/>
<circle cx="461.4" cy="247.5" r="3.75" fill="#000"/>
<circle cx="462.8" cy="247.5" r="3.75" fill="#000"/>
<circle cx="464.2" cy="247.5" r="3.75" fill="#000"/>
<circle cx="465.7" cy="247.5" r="3.75" fill="#000"/>
<circle cx="467.1" cy="247.5" r="3.75" fill="#000"/>
<circle cx="468.6" cy="247.5" r="3.75" fill="#000"/>
<circle cx="470.0" cy="247.5" r="3.75" fill="#000"/>
<circle cx="472.0" cy="248.3" r="3.75" fill="#000"/>
<circle cx="473.7" cy="248.3" r="3.75" fill="#000"/>
<circle cx="475.3" cy="248.3" r="3.75" fill="#000"/>
<circle cx="477.0" cy="248.3" r="3.75" fill="#000"/>
<circle cx="478.0" cy="250.0" r="3.75" fill="#000"/>
<circle cx="479.5" cy="250.0" r="3.75" fill="#000"/>
<circle cx="481.0" cy="250.0" r="3.75" fill="#000"/>
<circle cx="482.5" cy="250.0" r="3.75" fill="#000"/>
<circle cx="484.0" cy="250.0" r="3.75" fill="#000"/>
<circle cx="486.0" cy="251.4" r="3.75" fill="#000"/>
<circle cx="487.6" cy="251.4" r="3.75" fill="#000"/>
<circle cx="489.2" cy="251.4" r="3.75" fill="#000"/>
<circle cx="490.8" cy="251.4" r="3.75" fill="#000"/>
<circle cx="492.4" cy="251.4" r="3.75" fill="#000"/>
<circle cx="494.0" cy="251.4" r="3.75" fill="#000"/>
<circle cx="497.0" cy="252.9" r="3.75" fill="#000"/>
<circle cx="498.3" cy="252.9" r="3.75" fill="#000"/>
<circle cx="499.7" cy="252.9" r="3.75" fill="#000"/>
<circle cx="501.0" cy="252.9" r="3.75" fill="#000"/>
<circle cx="504.0" cy="254.6" r="3.75" fill="#000"/>
<circle cx="505.5" cy="254.6" r="3.75" fill="#000"/>
<circle cx="506.9" cy="254.6" r="3.75" fill="#000"/>
<circle cx="508.4" cy="254.6" r="3.75" fill="#000"/>
<circle cx="509.9" cy="254.6" r="3.75" fill="#000"/>
<circle cx="511.4" cy="254.6" r="3.75" fill="#000"/>
<circle cx="512.8" cy="254.6" r="3.75" fill="#000"/>
<circle cx="514.3" cy="254.6" r="3.75" fill="#000"/>
<circle cx="515.8" cy="254.6" r="3.75" fill="#000"/>
<circle cx="517.2" cy="254.6" r="3.75" fill="#000"/>
<circle cx="518.7" cy="254.6" r="3.75" fill="#000"/>
<circle cx="520.2" cy="254.6" r="3.75" fill="#000"/>
<circle cx="521.7" cy="254.6" r="3.75" fill="#000"/>
<circle cx="523.1" cy="254.6" r="3.75" fill="#000"/>
<circle cx="524.6" cy="254.6" r="3.75" fill="#000"/>
<circle cx="526.1" cy="254.6" r="3.75" fill="#000"/>
<circle cx="527.6" cy="254.6" r="3.75" fill="#000"/>
<circle cx="529.0" cy="254.6" r="3.75" fill="#000"/>
<circle cx="530.5" cy="254.6" r="3.75" fill="#000"/>
<circle cx="534.0" cy="257.8" r="3.75" fill="#000"/>
<circle cx="535.5" cy="257.8" r="3.75" fill="#000"/>
<circle cx="537.0" cy="257.8" r="3.75" fill="#000"/>
<circle cx="538.5" cy="257.8" r="3.75" fill="#000"/>
<circle cx="540.0" cy="257.8" r="3.75" fill="#000"/>
<circle cx="541.5" cy="257.8" r="3.75" fill="#000"/>
<circle cx="543.0" cy="257.8" r="3.75" fill="#000"/>
<circle cx="546.7" cy="259.8" r="3.75" fill="#000"/>
<circle cx="548.2" cy="259.8" r="3.75" fill="#000"/>
<circle cx="549.7" cy="259.8" r="3.75" fill="#000"/>
<circle cx="551.3" cy="259.8" r="3.75" fill="#000"/>
<circle cx="552.8" cy="259.8" r="3.75" fill="#000"/>
<circle cx="554.3" cy="259.8" r="3.75" fill="#000"/>
<circle cx="555.8" cy="259.8" r="3.75" fill="#000"/>
<circle cx="557.3" cy="259.8" r="3.75" fill="#000"/>
<circle cx="558.9" cy="259.8" r="3.75" fill="#000"/>
<circle cx="560.4" cy="259.8" r="3.75" fill="#000"/>
<circle cx="561.9" cy="259.8" r="3.75" fill="#000"/>
<circle cx="563.4" cy="259.8" r="3.75" fill="#000"/>
<circle cx="564.9" cy="259.8" r="3.75" fill="#000"/>
<circle cx="566.5" cy="259.8" r="3.75" fill="#000"/>
<circle cx="568.0" cy="259.8" r="3.75" fill="#000"/>
<circle cx="569.5" cy="259.8" r="3.75" fill="#000"/>
<circle cx="572.5" cy="263.5" r="3.75" fill="#000"/>
<circle cx="574.0" cy="263.5" r="3.75" fill="#000"/>
<circle cx="575.5" cy="263.5" r="3.75" fill="#000"/>
<circle cx="577.1" cy="263.5" r="3.75" fill="#000"/>
<circle cx="578.6" cy="263.5" r="3.75" fill="#000"/>
<circle cx="580.1" cy="263.5" r="3.75" fill="#000"/>
<circle cx="581.6" cy="263.5" r="3.75" fill="#000"/>
<circle cx="583.2" cy="263.5" r="3.75" fill="#000"/>
<circle cx="584.7" cy="263.5" r="3.75" fill="#000"/>
<circle cx="586.2" cy="263.5" r="3.75" fill="#000"/>
<circle cx="587.7" cy="263.5" r="3.75" fill="#000"/>
<circle cx="589.2" cy="263.5" r="3.75" fill="#000"/>
<circle cx="590.8" cy="263.5" r="3.75" fill="#000"/>
<circle cx="592.3" cy="263.5" r="3.75" fill="#000"/>
<circle cx="593.8" cy="263.5" r="3.75" fill="#000"/>
<circle cx="595.3" cy="263.5" r="3.75" fill="#000"/>
<circle cx="596.9" cy="263.5" r="3.75" fill="#000"/>
<circle cx="598.4" cy="263.5" r="3.75" fill="#000"/>
<circle cx="599.9" cy="263.5" r="3.75" fill="#000"/>
<circle cx="601.4" cy="263.5" r="3.75" fill="#000"/>
<circle cx="602.9" cy="263.5" r="3.75" fill="#000"/>
<circle cx="604.5" cy="263.5" r="3.75" fill="#000"/>
<circle cx="606.0" cy="263.5" r="3.75" fill="#000"/>
<circle cx="607.5" cy="263.5" r="3.75" fill="#000"/>
<circle cx="609.0" cy="263.5" r="3.75" fill="#000"/>
<circle cx="610.6" cy="263.5" r="3.75" fill="#000"/>
<circle cx="612.1" cy="263.5" r="3.75" fill="#000"/>
<circle cx="613.6" cy="263.5" r="3.75" fill="#000"/>
<circle cx="616.5" cy="279.2" r="3.75" fill="#000"/>
<circle cx="618.2" cy="279.2" r="3.75" fill="#000"/>
<circle cx="620.0" cy="279.2" r="3.75" fill="#000"/>
<circle cx="627.2" cy="304.8" r="3.75" fill="#000"/>
<circle cx="627.2" cy="304.8" r="3.75" fill="#000"/>
<circle cx="632.9" cy="304.8" r="3.75" fill="#000"/>
<circle cx="632.9" cy="304.8" r="3.75" fill="#000"/>
<circle cx="639.0" cy="304.8" r="3.75" fill="#000"/>
<circle cx="639.0" cy="304.8" r="3.75" fill="#000"/>
</g>
<g font-family='"Liberation Serif", serif' font-size="16" fill="#000">
<text x="42" y="519">Nivolumab</text>
<text x="42.0" y="537.7">532</text>
<text x="77.7" y="537.7">501</text>
<text x="113.4" y="537.7">460</text>
<text x="149.1" y="537.7">402</text>
<text x="184.8" y="537.7">354</text>
<text x="220.5" y="537.7">325</text>
<text x="256.2" y="537.7">292</text>
<text x="291.9" y="537.7">278</text>
<text x="327.6" y="537.7">261</text>
<text x="363.3" y="537.7">244</text>
<text x="399.0" y="537.7">230</text>
<text x="434.7" y="537.7">185</text>
<text x="470.4" y="537.7">150</text>
<text x="506.1" y="537.7">111</text>
<text x="541.8" y="537.7">59</text>
<text x="577.5" y="537.7">22</text>
<text x="613.2" y="537.7">1</text>
<text x="648.9" y="537.7">0</text>
<text x="42" y="556.4">Placebo</text>
<text x="42.0" y="574.2">262</text>
<text x="77.7" y="574.2">239</text>
<text x="113.4" y="574.2">217</text>
<text x="149.1" y="574.2">195</text>
<text x="184.8" y="574.2">168</text>
<text x="220.5" y="574.2">146</text>
<text x="256.2" y="574.2">127</text>
<text x="291.9" y="574.2">117</text>
<text x="327.6" y="574.2">112</text>
<text x="363.3" y="574.2">105</text>
<text x="399.0" y="574.2">101</text>
<text x="434.7" y="574.2">80</text>
<text x="470.4" y="574.2">64</text>
<text x="506.1" y="574.2">46</text>
<text x="541.8" y="574.2">26</text>
<text x="577.5" y="574.2">8</text>
<text x="613.2" y="574.2">1</text>
<text x="648.9" y="574.2">0</text>
<line x1="45" y1="607.5" x2="107" y2="607.5" stroke="#000" stroke-width="1"/>
<circle cx="67.8" cy="606.6" r="4.4" fill="#000"/>
<line x1="46.3" y1="627.5" x2="70" y2="627.5" stroke="#000" stroke-width="1" stroke-dasharray="4.6 4.5"/>
<line x1="85.8" y1="627.5" x2="109" y2="627.5" stroke="#000" stroke-width="1" stroke-dasharray="4.2 4.9"/>
<circle cx="77.2" cy="625.6" r="5.2" fill="#fff" stroke="#000" stroke-width="1.1"/>
<path d="M77.5,620.2 A5.3,5.3 0 0 1 82.6,626.5" fill="none" stroke="#000" stroke-width="2"/>
<text x="152.3" y="611">Nivolumab (händelser: 299/532), median och 95 % KI: 51,71 (41,03, 61,63)</text>
<text x="152.3" y="631">Placebo (händelser: 162/262), median och 95 % KI: 35,25 (30,72, 48,76)</text>
</g>
<text transform="translate(38.5,648) scale(1.015,1)" font-family='"Liberation Serif", serif' font-size="14.2" fill="#000">Baserad på data cut-off: 17 december 2024, minsta uppföljningstid 60 månader</text>
</svg></body></html>
